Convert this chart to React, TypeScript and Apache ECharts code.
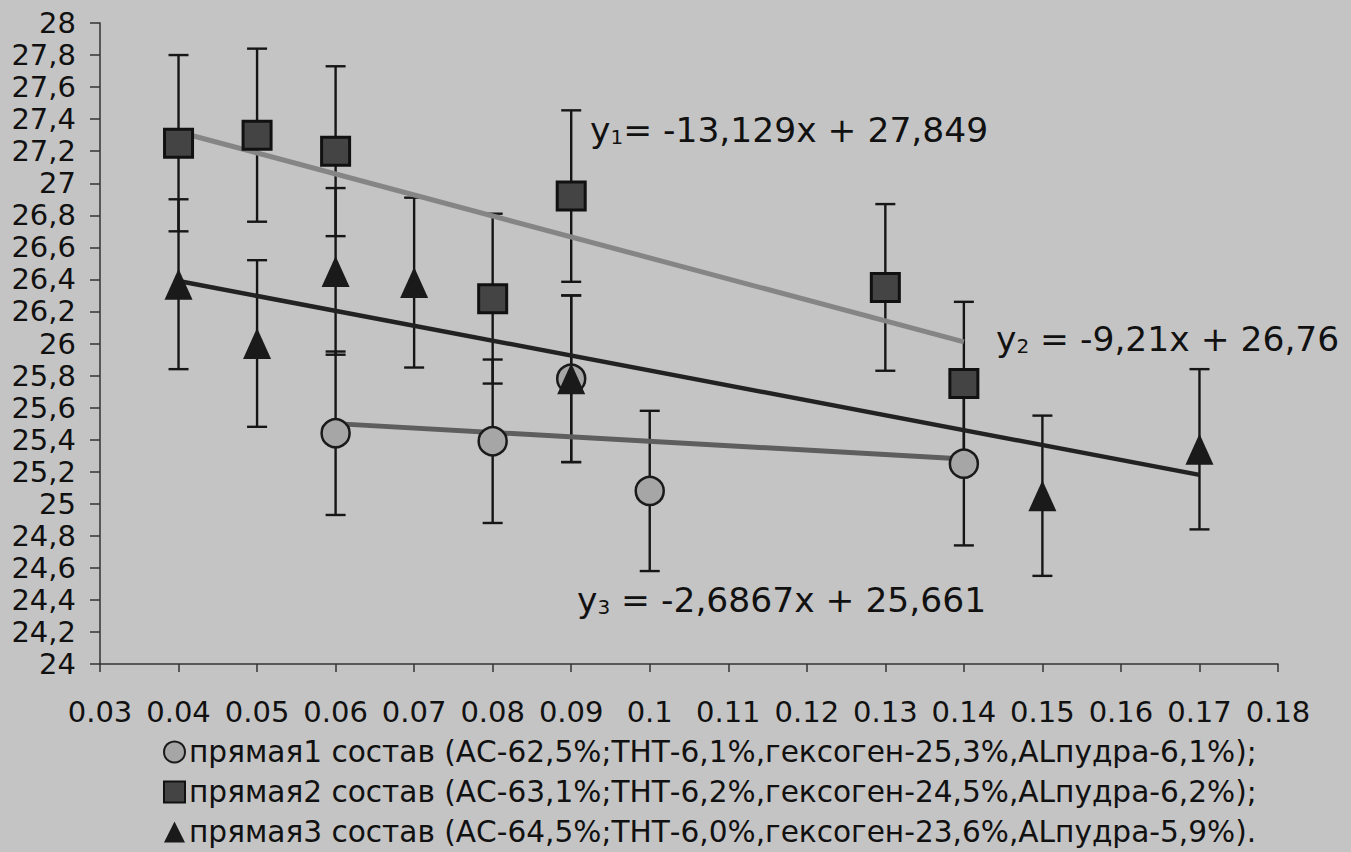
import React, { useEffect, useRef } from 'react';
import * as echarts from 'echarts';

const FONT = 'DejaVu Sans';

// Legend names
const s1Name = 'прямая1 состав (АС-62,5%;ТНТ-6,1%,гексоген-25,3%,АLпудра-6,1%);';
const s2Name = 'прямая2 состав (АС-63,1%;ТНТ-6,2%,гексоген-24,5%,АLпудра-6,2%);';
const s3Name = 'прямая3 состав (АС-64,5%;ТНТ-6,0%,гексоген-23,6%,АLпудра-5,9%).';

// Series 1 (circles)
const s1X = [0.06, 0.08, 0.09, 0.1, 0.14];
const s1Y = [25.44, 25.39, 25.78, 25.08, 25.25];
const s1Err = [0.51, 0.51, 0.52, 0.5, 0.51];

// Series 2 (squares)
const s2X = [0.04, 0.05, 0.06, 0.08, 0.09, 0.13, 0.14];
const s2Y = [27.25, 27.3, 27.2, 26.28, 26.92, 26.35, 25.75];
const s2Err = [0.55, 0.54, 0.53, 0.53, 0.535, 0.52, 0.51];

// Series 3 (triangles)
const s3X = [0.04, 0.05, 0.06, 0.07, 0.09, 0.15, 0.17];
const s3Y = [26.37, 26.0, 26.45, 26.38, 25.78, 25.05, 25.34];
const s3Err = [0.53, 0.52, 0.52, 0.53, 0.52, 0.5, 0.5];

// Trend line end points
const trendSquares = [[0.04, 27.32], [0.14, 26.01]];
const trendTriangles = [[0.04, 26.39], [0.17, 25.18]];
const trendCircles = [[0.06, 25.5], [0.14, 25.28]];

// Equation labels
const eqSquares = ['y', '1', '= -13,129x + 27,849'];
const eqTriangles = ['y', '2', ' = -9,21x + 26,76'];
const eqCircles = ['y', '3', ' = -2,6867x + 25,661'];

// Axis ranges
const xMin = 0.03, xMax = 0.18, xStep = 0.01;
const yMin = 24, yMax = 28, yStep = 0.2;

const pts = (xs: number[], ys: number[]) => xs.map((x, i) => [x, ys[i]]);
const errs = (xs: number[], ys: number[], es: number[]) =>
  xs.map((x, i) => [x, ys[i] - es[i], ys[i] + es[i]]);

const errRender = (params: any, api: any) => {
  const x = api.value(0);
  const pLo = api.coord([x, api.value(1)]);
  const pHi = api.coord([x, api.value(2)]);
  const hw = 10;
  const style = { stroke: '#161616', lineWidth: 2.4 };
  return {
    type: 'group',
    children: [
      { type: 'line', shape: { x1: pHi[0], y1: pHi[1], x2: pLo[0], y2: pLo[1] }, style },
      { type: 'line', shape: { x1: pHi[0] - hw, y1: pHi[1], x2: pHi[0] + hw, y2: pHi[1] }, style },
      { type: 'line', shape: { x1: pLo[0] - hw, y1: pLo[1], x2: pLo[0] + hw, y2: pLo[1] }, style },
    ],
  };
};

const eqText = (parts: string[], x: number, y: number) => ({
  type: 'text',
  x,
  y,
  z: 100,
  style: {
    text: `{a|${parts[0]}}{b|${parts[1]}}{a|${parts[2]}}`,
    verticalAlign: 'middle',
    rich: {
      a: { fontFamily: FONT, fontSize: 34.5, fill: '#111', verticalAlign: 'bottom', lineHeight: 40 },
      b: { fontFamily: FONT, fontSize: 20, fill: '#111', verticalAlign: 'bottom', lineHeight: 36 },
    },
  },
});

export default function App() {
  const ref = useRef<HTMLDivElement>(null);
  useEffect(() => {
    if (!ref.current) return;
    const chart = echarts.init(ref.current, undefined, { renderer: 'svg' });
    chart.setOption({
      animation: false,
      backgroundColor: '#c4c4c4',
      grid: { left: 100, right: 73, top: 23, bottom: 188, containLabel: false },
      xAxis: {
        type: 'value',
        min: xMin,
        max: xMax,
        interval: xStep,
        splitLine: { show: false },
        axisLine: { show: true, lineStyle: { color: '#333', width: 1.5 } },
        axisTick: { show: true, length: 8, lineStyle: { color: '#333', width: 1.5 } },
        axisLabel: {
          margin: 33,
          fontFamily: FONT,
          fontSize: 29,
          color: '#111',
          formatter: (v: number) => String(Math.round(v * 100) / 100),
        },
      },
      yAxis: {
        type: 'value',
        min: yMin,
        max: yMax,
        interval: yStep,
        splitLine: { show: false },
        axisLine: { show: true, lineStyle: { color: '#333', width: 1.5 } },
        axisTick: { show: true, length: 10, lineStyle: { color: '#333', width: 1.5 } },
        axisLabel: {
          margin: 24,
          fontFamily: FONT,
          fontSize: 29,
          color: '#111',
          formatter: (v: number) => String(Math.round(v * 10) / 10).replace('.', ','),
        },
      },
      legend: {
        orient: 'vertical',
        left: 163,
        top: 737,
        itemGap: 10,
        itemWidth: 21,
        itemHeight: 21,
        padding: 0,
        data: [s1Name, s2Name, s3Name],
        textStyle: { fontFamily: FONT, fontSize: 29.6, color: '#111', padding: [0, 0, 0, -1] },
      },
      graphic: [
        eqText(eqSquares, 590, 127),
        eqText(eqTriangles, 996, 336),
        eqText(eqCircles, 577, 597),
      ],
      series: [
        { type: 'custom', name: 'e1', data: errs(s1X, s1Y, s1Err), renderItem: errRender, encode: { x: 0, y: [1, 2] }, z: 2, silent: true },
        { type: 'custom', name: 'e2', data: errs(s2X, s2Y, s2Err), renderItem: errRender, encode: { x: 0, y: [1, 2] }, z: 2, silent: true },
        { type: 'custom', name: 'e3', data: errs(s3X, s3Y, s3Err), renderItem: errRender, encode: { x: 0, y: [1, 2] }, z: 2, silent: true },
        {
          type: 'line', name: 't2', data: trendSquares, symbol: 'none', z: 3, silent: true,
          lineStyle: { color: '#858585', width: 5 },
        },
        {
          type: 'line', name: 't3', data: trendTriangles, symbol: 'none', z: 3, silent: true,
          lineStyle: { color: '#222222', width: 4.5 },
        },
        {
          type: 'line', name: 't1', data: trendCircles, symbol: 'none', z: 3, silent: true,
          lineStyle: { color: '#5e5e5e', width: 5 },
        },
        {
          type: 'scatter', name: s1Name, data: pts(s1X, s1Y), symbol: 'circle', symbolSize: 28, z: 4,
          itemStyle: { color: '#a6a6a6', borderColor: '#1a1a1a', borderWidth: 2.5, opacity: 1 },
        },
        {
          type: 'scatter', name: s2Name, data: pts(s2X, s2Y), symbol: 'rect', symbolSize: 28, z: 4,
          itemStyle: { color: '#444444', borderColor: '#111111', borderWidth: 3, opacity: 1 },
        },
        {
          type: 'scatter', name: s3Name, data: pts(s3X, s3Y), symbol: 'triangle', symbolSize: [28, 31], z: 4,
          itemStyle: { color: '#1a1a1a', opacity: 1 },
        },
      ],
    });
    return () => chart.dispose();
  }, []);
  return (
    <div
      ref={ref}
      style={{ position: 'absolute', left: 0, top: 0, width: 1351, height: 852 }}
    />
  );
}
